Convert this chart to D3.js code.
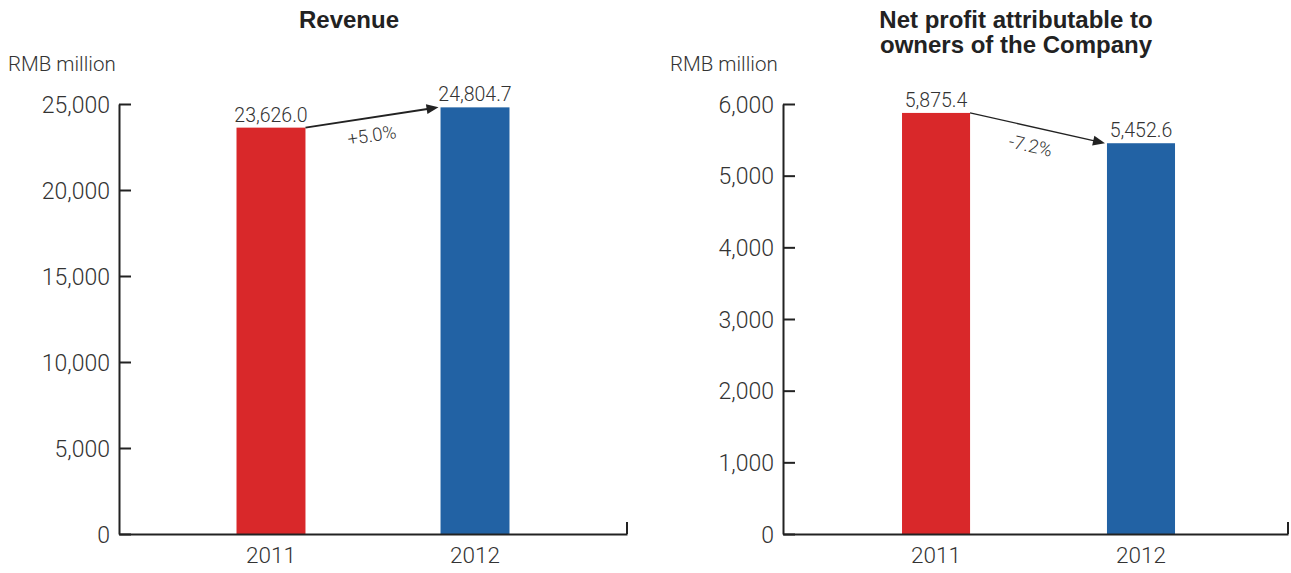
<!DOCTYPE html>
<html>
<head>
<meta charset="utf-8">
<script src="https://cdn.jsdelivr.net/npm/d3@7"></script>
<style>
  body { margin: 0; background: #fff; }
  svg text { font-family: Roboto, "Liberation Sans", sans-serif; font-weight: 300; fill: #333; }
  .title { font-family: "Liberation Sans", Arial, sans-serif; font-weight: 700; fill: #222; font-size: 24px; }
</style>
</head>
<body>
<svg width="1291" height="573"></svg>
<script>
const years = ['2011', '2012']
const revenue = [23626.0, 24804.7]
const revenueTicks = [0, 5000, 10000, 15000, 20000, 25000]
const profit = [5875.4, 5452.6]
const profitTicks = [0, 1000, 2000, 3000, 4000, 5000, 6000]
const changes = ['+5.0%', '-7.2%']
const titles = [['Revenue'], ['Net profit attributable to', 'owners of the Company']]
const unitLabel = 'RMB million'
const colors = ['#d9282a', '#2262a4']

const svg = d3.select('svg')
const fmt = d3.format(',')
const fmtVal = d3.format(',.1f')

const panels = [
  { values: revenue, ticks: revenueTicks, max: 25000, change: changes[0], title: titles[0],
    left: 119, right: 627, padIn: 0.662, padOut: 0.576, align: 0.5, unitX: 8, titleX: 349 },
  { values: profit, ticks: profitTicks, max: 6000, change: changes[1], title: titles[1],
    left: 783, right: 1288, padIn: 0.668, padOut: 0.566, align: 0.513, unitX: 670, titleX: 1016 }
]

const plotTop = 104
const plotBottom = 534

panels.forEach(p => {
  const g = svg.append('g')

  const x = d3.scaleBand()
    .domain(years)
    .range([p.left, p.right])
    .paddingInner(p.padIn)
    .paddingOuter(p.padOut)
    .align(p.align)

  const y = d3.scaleLinear()
    .domain([0, p.max])
    .range([plotBottom, plotTop])

  // bars
  g.selectAll('rect')
    .data(p.values)
    .enter()
    .append('rect')
    .attr('x', (d, i) => x(years[i]))
    .attr('y', d => y(d))
    .attr('width', x.bandwidth())
    .attr('height', d => plotBottom - y(d))
    .attr('fill', (d, i) => colors[i])

  // value labels
  g.selectAll('.val')
    .data(p.values)
    .enter()
    .append('text')
    .attr('class', 'val')
    .attr('x', (d, i) => x(years[i]) + x.bandwidth() / 2)
    .attr('y', d => y(d) - 6)
    .attr('text-anchor', 'middle')
    .style('font-size', '19.5px')
    .text(d => fmtVal(d))

  // y axis, ticks point inward
  const yAxis = d3.axisLeft(y)
    .tickValues(p.ticks)
    .tickFormat(fmt)
    .tickSizeInner(-12)
    .tickSizeOuter(0)
    .tickPadding(9)

  const yax = g.append('g')
    .attr('transform', `translate(${p.left}, 0)`)
    .call(yAxis)
  yax.selectAll('text').style('font-size', '23px').attr('dy', '0.36em')

  // x axis
  const xAxis = d3.axisBottom(x)
    .tickSize(0)
    .tickSizeOuter(0)
    .tickPadding(13)

  const xax = g.append('g')
    .attr('transform', `translate(0, ${plotBottom})`)
    .call(xAxis)
  xax.selectAll('text').style('font-size', '22.5px').attr('dy', '0.71em')
  // small end tick at right of x axis
  xax.append('line')
    .attr('x1', x.range()[1]).attr('x2', x.range()[1])
    .attr('y1', 0).attr('y2', -12)

  svg.selectAll('.domain, .tick line, g line')
    .attr('stroke', '#222')
    .attr('stroke-width', 2)

  // arrow between bar tops
  const x0 = x(years[0]) + x.bandwidth()
  const y0 = y(p.values[0])
  const x1 = x(years[1]) - 2
  const y1 = y(p.values[1])
  const ang = Math.atan2(y1 - y0, x1 - x0)
  const head = 12
  g.append('line')
    .attr('x1', x0).attr('y1', y0)
    .attr('x2', x1 - head * Math.cos(ang) * 0.8).attr('y2', y1 - head * Math.sin(ang) * 0.8)
    .attr('stroke', '#222')
    .attr('stroke-width', 1.3)
  const hx = x1, hy = y1
  const pts = [
    [hx, hy],
    [hx - head * Math.cos(ang) + 5 * Math.sin(ang), hy - head * Math.sin(ang) - 5 * Math.cos(ang)],
    [hx - head * Math.cos(ang) - 5 * Math.sin(ang), hy - head * Math.sin(ang) + 5 * Math.cos(ang)]
  ]
  g.append('path')
    .attr('d', 'M' + pts.join('L') + 'Z')
    .attr('fill', '#222')

  // change label below arrow
  const mx = (x0 + x1) / 2 - 3 - 18 * Math.sin(ang)
  const my = (y0 + y1) / 2 + 18 * Math.cos(ang)
  g.append('text')
    .attr('transform', `translate(${mx}, ${my}) rotate(${ang * 180 / Math.PI})`)
    .attr('text-anchor', 'middle')
    .attr('dy', '0.35em')
    .style('font-size', '18.5px')
    .text(p.change)

  // unit label
  g.append('text')
    .attr('x', p.unitX)
    .attr('y', 71)
    .style('font-size', '20.5px')
    .text(unitLabel)

  // title
  g.append('text')
    .attr('class', 'title')
    .attr('text-anchor', 'middle')
    .selectAll('tspan')
    .data(p.title)
    .enter()
    .append('tspan')
    .attr('x', p.titleX)
    .attr('y', (d, i) => 28 + i * 25)
    .text(d => d)
})
</script>
</body>
</html>
